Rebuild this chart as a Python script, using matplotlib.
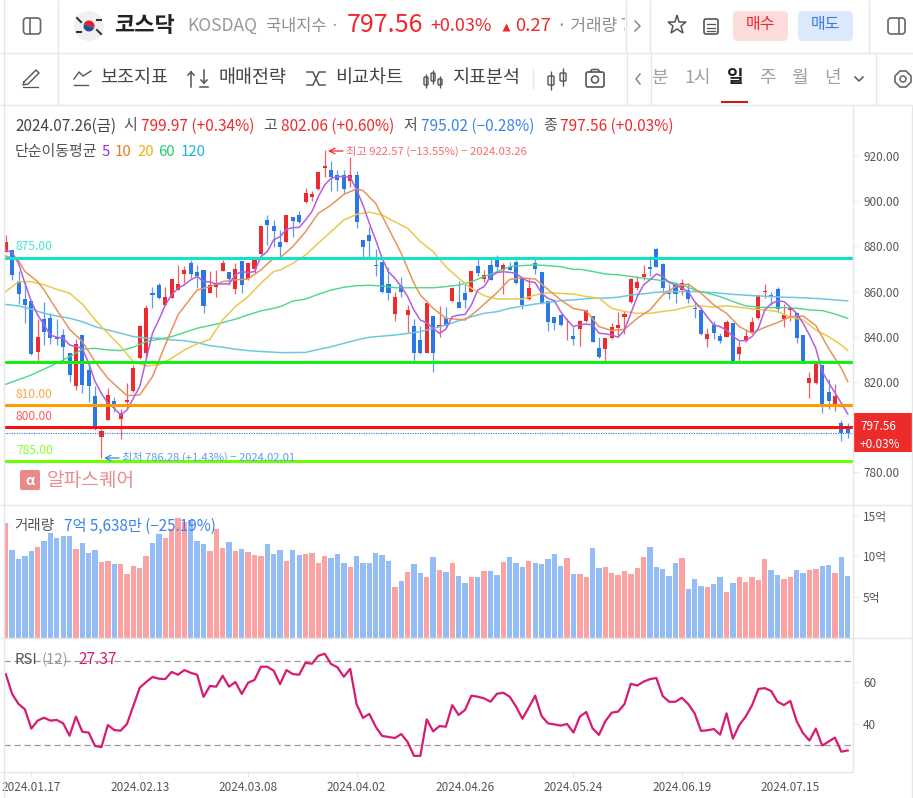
import matplotlib
matplotlib.use('Agg')
import matplotlib.pyplot as plt
from matplotlib.patches import FancyBboxPatch, Rectangle, Circle, Wedge
from matplotlib.transforms import Bbox, TransformedBbox

plt.rcParams['font.family'] = ['Noto Sans CJK KR', 'DejaVu Sans']

# candles, 2024.01.12 ~ 2024.07.26
opens = [877.7, 878.4, 864.7, 856.8, 856.0, 833.5, 847.8, 848.4, 839.8, 840.8,
         832.7, 818.4, 840.8, 825.3, 813.6, 795.8, 803.2, 811.6, 803.7, 811.2,
         816.2, 830.5, 832.7, 859.6, 863.0, 854.1, 857.1, 860.7, 867.8, 872.5,
         868.7, 869.6, 859.3, 861.9, 868.9, 868.7, 861.0, 873.7, 865.5, 869.9,
         876.6, 891.7, 889.0, 882.1, 882.1, 892.9, 893.9, 899.5, 902.0, 905.4,
         914.8, 913.8, 911.6, 911.6, 909.1, 911.6, 882.8, 885.0, 871.8, 873.2,
         863.4, 850.1, 862.5, 849.8, 844.8, 838.6, 833.0, 849.2, 844.5, 848.2,
         855.8, 855.2, 859.5, 860.0, 871.3, 865.6, 871.8, 874.0, 869.6, 870.7,
         872.9, 865.9, 856.6, 872.5, 868.5, 855.8, 848.6, 849.6, 846.0, 840.3,
         843.3, 847.2, 849.2, 834.9, 834.6, 839.4, 843.8, 848.9, 855.3, 861.8,
         866.4, 870.8, 878.9, 872.3, 859.6, 863.0, 860.7, 860.7, 852.8, 851.9,
         839.2, 845.3, 840.4, 840.1, 846.0, 832.4, 838.3, 842.3, 848.1, 859.7,
         858.4, 861.2, 847.8, 851.9, 850.4, 840.8, 819.7, 819.7, 827.6, 815.8,
         810.3, 801.7, 799.97]
highs = [885.0, 878.4, 869.3, 864.4, 856.0, 847.8, 855.4, 850.4, 847.8, 843.3,
         832.7, 838.9, 840.8, 828.3, 818.3, 799.1, 817.2, 813.5, 808.0, 819.4,
         827.6, 845.3, 854.1, 862.2, 864.0, 861.9, 865.6, 871.8, 871.4, 874.0,
         871.8, 869.6, 868.9, 869.6, 874.0, 868.7, 872.5, 873.7, 872.5, 874.8,
         889.0, 893.9, 891.7, 887.3, 893.9, 892.9, 895.8, 905.7, 904.7, 913.1,
         922.57, 917.8, 913.8, 913.8, 919.4, 913.4, 882.8, 888.7, 878.7, 873.2,
         871.0, 860.0, 866.3, 854.1, 847.7, 844.8, 855.1, 849.2, 853.6, 853.0,
         862.2, 864.7, 863.7, 869.1, 874.7, 869.6, 874.3, 876.2, 872.8, 873.2,
         874.0, 866.2, 865.9, 875.5, 868.8, 855.8, 848.9, 850.1, 848.2, 844.5,
         847.5, 851.9, 849.2, 840.1, 839.4, 846.3, 850.9, 851.2, 865.9, 866.9,
         871.8, 875.8, 879.2, 872.5, 863.4, 863.7, 865.6, 864.0, 855.3, 851.9,
         843.8, 847.2, 841.9, 847.5, 846.3, 838.3, 843.3, 848.7, 858.5, 863.4,
         860.0, 862.2, 854.4, 852.9, 850.4, 840.8, 824.6, 828.3, 827.6, 821.2,
         819.2, 803.2, 802.06]
lows = [877.7, 865.2, 854.5, 846.3, 832.0, 829.5, 836.4, 836.9, 836.4, 829.5,
        820.2, 816.5, 815.3, 811.3, 798.8, 786.28, 803.2, 806.9, 794.8, 808.4,
        815.8, 830.2, 830.5, 852.6, 856.6, 853.7, 857.1, 860.5, 863.7, 865.9,
        861.5, 850.4, 859.3, 857.8, 868.9, 863.0, 859.0, 859.3, 865.2, 868.1,
        876.6, 880.6, 879.9, 875.3, 882.1, 884.2, 890.5, 899.0, 900.2, 905.0,
        910.6, 904.5, 904.7, 903.5, 906.4, 888.3, 874.7, 875.4, 867.0, 859.2,
        856.3, 847.1, 857.8, 842.3, 829.4, 832.4, 832.7, 824.6, 840.1, 844.5,
        855.5, 852.6, 852.6, 859.7, 867.0, 864.4, 865.1, 869.3, 858.9, 869.6,
        863.4, 852.3, 856.3, 867.8, 854.5, 842.6, 843.0, 844.9, 838.6, 836.4,
        836.0, 846.7, 837.9, 830.5, 829.5, 838.9, 840.1, 841.3, 854.8, 860.7,
        865.2, 866.9, 870.8, 859.3, 856.6, 855.1, 858.5, 855.1, 848.2, 840.8,
        835.7, 838.9, 837.4, 839.8, 829.2, 829.2, 837.9, 841.9, 847.9, 857.2,
        854.1, 850.9, 844.5, 847.2, 837.2, 828.6, 812.8, 819.2, 806.5, 808.2,
        807.4, 794.1, 795.02]
closes = [882.1, 867.4, 859.0, 854.1, 832.4, 839.8, 842.3, 839.4, 839.2, 835.7,
          823.1, 836.7, 818.7, 818.4, 799.1, 798.5, 814.3, 809.1, 806.2, 812.1,
          826.4, 844.8, 852.8, 858.7, 857.1, 857.8, 865.6, 863.4, 869.6, 867.8,
          866.9, 853.7, 863.0, 863.0, 872.5, 865.5, 869.9, 863.0, 872.5, 874.0,
          889.0, 889.5, 886.8, 879.9, 893.9, 891.4, 890.9, 903.5, 903.0, 913.1,
          915.6, 910.6, 909.4, 905.2, 911.6, 890.9, 879.6, 882.5, 871.5, 860.0,
          859.2, 857.8, 860.0, 851.8, 832.7, 832.7, 855.1, 833.0, 845.2, 844.8,
          861.7, 852.9, 856.3, 869.1, 868.4, 867.3, 865.1, 871.0, 871.8, 869.6,
          863.6, 854.1, 861.4, 869.8, 854.8, 846.7, 846.2, 845.2, 846.2, 839.2,
          847.2, 851.9, 837.9, 831.2, 839.4, 844.2, 845.3, 850.0, 865.6, 864.4,
          867.7, 870.2, 871.1, 861.8, 858.8, 858.8, 864.0, 856.8, 852.2, 841.1,
          841.3, 841.9, 838.2, 846.4, 829.5, 835.7, 840.4, 846.7, 858.4, 860.3,
          857.8, 852.2, 849.7, 852.6, 839.4, 829.0, 821.7, 828.0, 810.3, 811.6,
          813.8, 797.3, 797.56]

# moving averages
ma5_x = list(range(133))
ma5 = [878.4, 877.3, 872.5, 863.7, 855.6, 849.7, 845.3, 840.8, 839.8, 839.4,
       836.4, 835.7, 834.9, 828.3, 820.2, 815.0, 810.6, 808.4, 805.4, 807.6,
       812.8, 818.0, 829.8, 841.6, 847.5, 854.1, 858.5, 861.5, 863.0, 865.2,
       866.7, 864.4, 864.4, 863.3, 863.4, 863.4, 867.4, 868.9, 868.4, 868.9,
       875.5, 877.7, 882.9, 884.3, 887.5, 888.3, 888.4, 891.7, 895.4, 902.0,
       907.2, 910.1, 910.9, 910.9, 910.6, 905.0, 898.3, 890.2, 882.8, 874.7,
       868.8, 865.9, 862.2, 857.8, 851.8, 847.4, 846.2, 843.7, 841.5, 843.4,
       848.9, 849.6, 849.9, 854.1, 860.7, 862.2, 866.6, 868.4, 868.8, 868.5,
       868.1, 865.9, 864.4, 864.0, 859.2, 857.0, 856.0, 851.1, 847.4, 844.5,
       845.3, 845.6, 845.3, 841.6, 841.3, 840.8, 839.8, 843.0, 850.4, 857.8,
       863.0, 865.2, 867.8, 866.7, 864.0, 863.0, 861.5, 860.0, 855.6, 852.6,
       848.7, 845.3, 844.5, 843.0, 840.1, 838.3, 838.3, 840.1, 843.8, 851.9,
       854.6, 855.9, 855.6, 853.1, 850.4, 846.0, 840.8, 834.9, 824.6, 819.7,
       815.3, 810.6, 805.9]
ma10_x = [0, 2, 3, 5, 6, 8, 10, 12, 14, 16, 18, 19, 21, 23, 25, 27, 29, 30, 32, 34,
          36, 38, 40, 42, 43, 45, 47, 49, 51, 53, 55, 56, 58, 60, 62, 64, 65, 67, 69, 71,
          72, 74, 76, 77, 79, 81, 83, 85, 87, 89, 91, 93, 95, 97, 99, 101, 103, 105, 107, 109,
          111, 113, 115, 117, 119, 121, 123, 125, 127, 129, 131, 132]
ma10 = [875.8, 873.7, 868.9, 864.4, 860.7, 851.9, 843.3, 837.9, 829.0, 821.7,
        816.5, 814.0, 814.3, 822.4, 836.4, 849.7, 857.1, 860.7, 862.2, 864.4,
        865.2, 865.6, 869.6, 874.8, 875.0, 879.9, 886.5, 894.6, 898.3, 903.0,
        905.4, 904.7, 899.0, 888.0, 876.9, 863.7, 858.5, 852.6, 848.2, 847.7,
        847.4, 851.9, 857.0, 859.5, 865.4, 866.0, 865.6, 861.0, 856.3, 852.5,
        851.5, 844.5, 842.8, 843.3, 848.2, 851.9, 858.5, 862.2, 863.3, 859.3,
        854.1, 850.4, 844.5, 841.6, 844.2, 846.3, 848.9, 849.2, 845.0, 834.9,
        826.1, 820.2]
ma20_x = [0, 2, 4, 6, 8, 10, 12, 14, 16, 18, 20, 22, 24, 26, 28, 30, 32, 34, 36, 38,
          40, 42, 43, 45, 47, 49, 51, 53, 55, 57, 59, 61, 63, 65, 67, 69, 71, 73, 75, 77,
          79, 81, 83, 85, 87, 89, 91, 93, 95, 97, 99, 101, 103, 105, 107, 109, 111, 113, 115, 117,
          119, 121, 123, 125, 127, 129, 131, 132]
ma20 = [860.0, 864.4, 864.4, 863.0, 861.0, 859.3, 854.5, 847.5, 841.6, 835.7,
        829.0, 827.1, 827.6, 830.5, 834.2, 836.9, 838.9, 847.5, 853.4, 857.8,
        863.7, 868.9, 869.5, 872.5, 876.2, 881.4, 886.5, 891.7, 894.2, 895.1,
        893.9, 890.9, 888.0, 882.1, 877.7, 871.0, 865.9, 861.4, 858.2, 856.7,
        856.7, 856.7, 858.5, 859.5, 859.2, 858.9, 857.8, 857.1, 852.6, 851.2,
        850.4, 850.4, 851.2, 851.9, 853.4, 853.7, 853.1, 853.7, 853.1, 852.3,
        851.9, 851.2, 848.7, 847.5, 843.0, 840.1, 836.4, 833.9]
ma60_x = [0, 4, 8, 10, 12, 14, 16, 18, 20, 22, 24, 26, 28, 30, 32, 34, 36, 38, 40, 42,
          43, 45, 47, 49, 51, 53, 55, 57, 59, 61, 63, 65, 67, 69, 71, 73, 75, 77, 79, 81,
          83, 85, 87, 89, 90, 92, 94, 96, 98, 100, 102, 104, 106, 108, 110, 112, 114, 116, 118, 120,
          122, 124, 126, 128, 130, 132]
ma60 = [819.0, 823.1, 828.3, 831.2, 834.5, 834.9, 834.2, 833.9, 835.4, 837.9,
        838.9, 840.1, 841.9, 843.8, 845.0, 846.3, 847.8, 849.7, 851.5, 852.6,
        853.3, 855.8, 856.7, 858.8, 860.7, 861.9, 862.6, 862.8, 862.5, 861.7,
        861.7, 861.7, 861.7, 862.2, 862.9, 864.4, 866.6, 868.8, 871.0, 871.5,
        871.8, 871.5, 871.0, 869.8, 869.9, 868.9, 867.8, 867.4, 866.7, 865.9,
        865.2, 864.4, 863.0, 860.7, 859.3, 857.8, 855.6, 853.7, 853.1, 852.9,
        852.9, 852.6, 851.9, 851.6, 850.1, 848.2]
ma120_x = [0, 2, 4, 6, 8, 10, 12, 14, 16, 18, 20, 22, 24, 26, 28, 30, 32, 34, 36, 38,
           40, 42, 43, 47, 49, 51, 53, 55, 57, 59, 61, 63, 65, 67, 69, 71, 73, 75, 77, 79,
           81, 83, 85, 87, 89, 90, 92, 94, 96, 98, 100, 102, 104, 106, 108, 110, 112, 114, 116, 118,
           120, 122, 124, 126, 128, 130, 132]
ma120 = [854.3, 853.7, 852.2, 850.4, 849.2, 848.2, 846.7, 844.5, 843.0, 841.6,
         840.1, 839.4, 839.4, 838.6, 838.3, 837.4, 836.1, 835.4, 834.5, 833.9,
         833.5, 833.2, 833.0, 833.1, 834.4, 835.6, 837.1, 838.6, 839.8, 840.3,
         840.8, 841.5, 842.3, 843.7, 845.2, 847.1, 848.9, 850.4, 851.1, 852.6,
         853.6, 854.5, 855.2, 856.0, 856.3, 856.6, 857.1, 857.1, 857.5, 858.5,
         859.0, 859.7, 860.0, 860.0, 860.0, 859.7, 859.3, 858.8, 858.4, 858.1,
         857.8, 857.5, 857.4, 857.1, 856.8, 856.3, 855.9]

# horizontal level lines
levels = [875.0, 828.7, 809.9, 800.0, 784.9]
level_colors = ['#12e2c8', '#12f012', '#ff9d00', '#ff1010', '#6cff00']

# volume in 억
volume = [14.1, 10.8, 9.7, 10.0, 10.6, 11.1, 11.9, 12.9, 12.2, 12.5,
          12.5, 10.9, 11.6, 10.4, 10.8, 9.3, 9.4, 9.05, 9.05, 7.8,
          8.8, 8.6, 10.0, 11.6, 12.7, 12.2, 13.4, 14.7, 14.2, 14.5,
          11.9, 11.5, 10.6, 13.4, 11.0, 11.75, 10.6, 10.9, 10.5, 10.15,
          10.0, 11.5, 10.3, 10.8, 9.4, 10.8, 10.16, 10.3, 10.4, 9.2,
          10.04, 9.8, 10.3, 9.2, 8.7, 10.04, 9.2, 9.2, 10.4, 10.16,
          9.4, 6.2, 7.0, 8.1, 9.05, 8.0, 7.5, 9.9, 8.3, 8.1,
          9.2, 7.6, 6.7, 7.5, 7.5, 8.2, 8.2, 7.7, 9.3, 9.9,
          9.2, 8.7, 9.4, 9.2, 9.05, 9.7, 10.3, 8.8, 9.8, 7.8,
          7.8, 7.5, 11.0, 8.6, 8.7, 8.0, 7.7, 8.2, 7.8, 8.6,
          9.9, 11.15, 8.7, 8.4, 7.6, 9.2, 9.8, 6.0, 7.2, 6.35,
          6.2, 6.6, 7.5, 5.6, 6.7, 7.5, 6.85, 7.5, 7.1, 9.7,
          8.3, 7.7, 7.2, 7.5, 8.3, 8.0, 8.3, 8.4, 8.8, 8.9,
          8.0, 9.9, 7.56]
volume_up = [1, 0, 0, 0, 0, 1, 0, 0, 0, 0, 0, 1, 0, 0, 0, 1, 1, 0, 1, 1,
             1, 1, 1, 0, 0, 1, 1, 1, 1, 0, 0, 0, 1, 1, 1, 0, 1, 0, 1, 1,
             1, 0, 0, 0, 1, 0, 0, 1, 1, 1, 1, 0, 0, 0, 1, 0, 0, 0, 0, 0,
             0, 1, 0, 1, 0, 0, 1, 0, 1, 0, 1, 0, 0, 1, 0, 1, 0, 0, 1, 0,
             0, 0, 1, 0, 0, 0, 0, 0, 1, 0, 1, 1, 0, 0, 1, 1, 1, 1, 1, 1,
             1, 0, 0, 0, 0, 0, 1, 0, 0, 0, 1, 0, 0, 1, 0, 1, 1, 1, 1, 1,
             0, 0, 1, 1, 0, 0, 1, 1, 0, 0, 1, 0, 0]

rsi = [63.8, 54.3, 49.5, 47.0, 37.8, 41.6, 43.0, 41.6, 41.9, 40.3,
       34.4, 43.5, 36.3, 35.9, 29.5, 29.0, 39.5, 37.1, 36.8, 40.0,
       48.6, 57.3, 60.0, 62.4, 61.6, 61.4, 64.8, 63.5, 65.7, 64.4,
       63.5, 52.9, 58.1, 57.8, 63.0, 57.8, 60.0, 54.3, 59.7, 61.0,
       67.3, 67.3, 65.4, 59.0, 65.7, 63.8, 63.5, 69.2, 68.7, 72.5,
       73.5, 68.6, 67.0, 62.5, 66.3, 49.5, 42.9, 44.8, 38.7, 34.3,
       33.8, 33.3, 35.2, 31.4, 24.8, 24.8, 42.2, 36.5, 39.0, 38.7,
       49.0, 44.3, 46.7, 53.5, 53.0, 52.2, 50.6, 54.4, 54.9, 53.0,
       48.3, 42.5, 47.9, 53.5, 43.8, 40.3, 39.8, 39.2, 40.0, 35.9,
       43.5, 45.7, 37.9, 34.8, 41.3, 45.4, 45.9, 49.5, 59.2, 58.3,
       60.2, 61.4, 61.9, 53.3, 50.6, 50.6, 52.5, 49.5, 45.1, 36.7,
       37.0, 37.6, 34.9, 45.1, 33.0, 39.5, 43.5, 48.9, 56.7, 57.1,
       55.7, 50.6, 49.0, 51.0, 41.3, 35.6, 32.1, 37.8, 29.7, 31.6,
       33.5, 26.8, 27.37]

date_ticks = [4, 21, 38, 55, 72, 89, 106, 123]
date_labels = ['2024.01.17', '2024.02.13', '2024.03.08', '2024.04.02',
               '2024.04.26', '2024.05.24', '2024.06.19', '2024.07.15']
price_ticks = [780, 820, 840, 860, 880, 900, 920]
volume_ticks = [5, 10, 15]
volume_tick_labels = ['5억', '10억', '15억']
rsi_ticks = [40, 60]

W, H = 913, 798
RED = '#ee2a2f'
BLUE = '#2a78e6'
LINE = '#e6e6e6'
GRAY = '#555555'
XMIN, XMAX = -0.28, 132.75


def panel(top, bottom):
    ax = fig.add_axes([4 / W, 1 - bottom / H, 848.5 / W, (bottom - top) / H])
    ax.set_xlim(XMIN, XMAX)
    for s in ax.spines.values():
        s.set_visible(False)
    ax.yaxis.tick_right()
    ax.set_xticks([])
    ax.tick_params(axis='y', length=3.6, width=0.7, color=LINE, pad=4,
                   labelsize=8.5, labelcolor=GRAY)
    return ax


fig = plt.figure(figsize=(W / 100, H / 100), dpi=100, facecolor='white')

# price panel
ax = panel(106, 505)
ax.set_ylim(765.6, 942.1)
for i in range(len(closes)):
    c = RED if closes[i] >= opens[i] else BLUE
    ax.vlines(i, lows[i], highs[i], color=c, lw=0.9, alpha=0.75, zorder=2)
    ax.bar(i, abs(closes[i] - opens[i]), bottom=min(opens[i], closes[i]),
           width=0.64, color=c, zorder=3)
ax.plot(ma120_x, ma120, color='#6cc8e0', lw=1.1, zorder=4)
ax.plot(ma60_x, ma60, color='#4cd68c', lw=1.0, zorder=4)
ax.plot(ma20_x, ma20, color='#ebc94e', lw=1.1, zorder=4)
ax.plot(ma10_x, ma10, color='#e8945a', lw=1.1, zorder=4)
ax.plot(ma5_x, ma5, color='#b25fe0', lw=1.1, zorder=5)
ax.axhline(closes[-1], color=BLUE, lw=0.8, ls=(0, (1, 1.2)), zorder=5)
for lv, c in zip(levels, level_colors):
    ax.axhline(lv, color=c, lw=2.2, zorder=6)
ax.set_yticks(price_ticks)
ax.set_yticklabels(['%.2f' % p for p in price_ticks])

# volume panel
vax = panel(505, 637.7)
vax.set_ylim(0, 16.3)
vax.bar(range(len(volume)), volume, width=0.84,
        color=['#fba3a3' if u else '#94bdf6' for u in volume_up])
vax.set_yticks(volume_ticks)
vax.set_yticklabels(volume_tick_labels)

# rsi panel
rax = panel(638, 772)
rax.set_ylim(17.1, 81)
rax.axhline(70, color='#999999', lw=0.9, ls=(0, (5, 3)))
rax.axhline(30, color='#999999', lw=0.9, ls=(0, (5, 3)))
rax.plot(range(len(rsi)), rsi, color='#d81b72', lw=1.6)
rax.set_yticks(rsi_ticks)
rax.set_xticks(date_ticks)
rax.set_xticklabels(date_labels)
rax.tick_params(axis='x', length=3.6, width=0.7, color=LINE, pad=3,
                labelsize=8.5, labelcolor=GRAY)

# everything around the chart, in pixels
ov = fig.add_axes([0, 0, 1, 1], zorder=10)
ov.set_xlim(0, W)
ov.set_ylim(H, 0)
ov.axis('off')


def txt(x, y, s, px=14, color=GRAY, weight='normal', ha='left', **kw):
    return ov.text(x, y, s, fontsize=px * 0.72, color=color, weight=weight,
                   ha=ha, va='center', **kw)


def hline(y, x0=0, x1=W, color=LINE, lw=1.0):
    ov.plot([x0, x1], [y, y], color=color, lw=lw, solid_capstyle='butt')


def vline(x, y0, y1, color=LINE, lw=1.0):
    ov.plot([x, x], [y0, y1], color=color, lw=lw, solid_capstyle='butt')


def rbox(x0, y0, x1, y1, r=3, fc='none', ec='none', lw=1.0):
    ov.add_patch(FancyBboxPatch((x0 + r, y0 + r), x1 - x0 - 2 * r, y1 - y0 - 2 * r,
                                boxstyle='round,pad=%d' % r, fc=fc, ec=ec, lw=lw))


for y in [53, 105, 505, 638]:
    hline(y)
hline(772, 0, 852.5)
vline(3.5, 0, 798)
vline(58, 0, 105)
vline(852.5, 106, 772)
vline(912, 106, 798)
vline(625.5, 0, 53)
vline(649.5, 0, 53)
vline(868.5, 0, 53)
vline(626.5, 53, 105)
vline(650.5, 53, 105)
vline(875.5, 53, 105)

# header row
rbox(23.5, 18, 40.5, 34, r=3, ec='#666666', lw=1.2)
vline(30, 18, 34, color='#666666', lw=1.2)
ov.add_patch(Circle((89, 26), 15, fc='#f0f0f0', ec='none'))
ov.add_patch(Wedge((89, 26), 5.5, 200, 20, fc='#d9252f', ec='none'))
ov.add_patch(Wedge((89, 26), 5.5, 20, 200, fc='#1f4fa0', ec='none'))
for dx, dy in [(-10, -6), (10, -6), (-10, 6), (10, 6)]:
    ov.plot([89 + dx - 2, 89 + dx + 2], [26 + dy - 2 * (dx * dy > 0), 26 + dy + 2 * (dx * dy > 0)],
            color='#333333', lw=1.5)
txt(114, 25, '코스닥', 22, '#222222', 'bold')
txt(187, 26, 'KOSDAQ', 17.5, '#9a9a9a')
txt(266, 26, '국내지수 ·', 16.5, '#8f8f8f')
txt(347, 25, '797.56', 25, '#f0282d', 'medium')
txt(430, 26, '+0.03%', 18, '#f0282d')
ov.plot(506, 27, marker='^', ms=6, color='#f0282d', mec='none')
txt(515, 26, '0.27', 18.5, '#f0282d')
t = txt(557, 26, '· 거래량 7', 17, '#8f8f8f')
t.set_clip_box(TransformedBbox(Bbox([[540, 0], [625, 53]]), ov.transData))
t.set_clip_on(True)
ov.plot([635, 640, 635], [21, 26, 31], color='#888888', lw=1.1)
ov.plot(677, 25, marker='*', ms=14, mfc='none', mec='#555555', mew=1.1)
rbox(704, 19, 718, 34, r=2, ec='#555555', lw=1.2)
for y in [24, 27.5, 31]:
    ov.plot([707, 715], [y, y], color='#555555', lw=0.9)
rbox(733, 11, 788, 41, r=5, fc='#fddcdc')
txt(760.5, 24, '매수', 16, '#f0282d', 'medium', ha='center')
rbox(798, 11, 853, 41, r=5, fc='#dce8fb')
txt(825.5, 24, '매도', 16, '#3a7be8', 'medium', ha='center')
rbox(888, 18, 905, 34, r=3, ec='#666666', lw=1.2)
vline(899, 18, 34, color='#666666', lw=1.2)

# toolbar row
ov.plot([24, 36, 39, 28, 23, 24], [82, 70, 73, 84, 85, 82], color='#555555', lw=1.0)
ov.plot([23, 38], [87, 87], color='#555555', lw=0.9)
ov.plot([74, 79, 83, 91], [79, 72, 76, 71], color='#555555', lw=1.0)
ov.plot([74, 88], [85, 85], color='#555555', lw=1.0)
ov.plot([191, 191], [72, 87], color='#555555', lw=1.1)
ov.plot([191, 188], [72, 75], color='#555555', lw=1.1)
ov.plot([191, 194], [72, 75], color='#555555', lw=1.1)
ov.plot([204, 204], [70, 83], color='#555555', lw=1.1)
ov.plot([200, 208], [87, 87], color='#555555', lw=1.1)
ov.plot([201, 204, 207], [80, 83, 80], color='#555555', lw=1.1)
ov.plot([307, 313, 319, 325], [72, 72, 85, 85], color='#555555', lw=1.1)
ov.plot([307, 313, 319, 325], [85, 85, 72, 72], color='#555555', lw=1.1)
for x, y0, y1 in [(426, 74, 88), (433, 70, 84), (440, 76, 88)]:
    vline(x, y0, y1, color='#555555', lw=1.0)
    rbox(x - 2, y0 + 3, x + 2, y1 - 3, r=1, ec='#555555', fc='white')
for x, s in [(100, '보조지표'), (218, '매매전략'), (335, '비교차트'), (452, '지표분석')]:
    txt(x, 78, s, 18.5, '#444444', 'medium')
vline(533, 69, 89, lw=1.0)
for x, y0, y1 in [(551, 71, 90), (563, 68, 86)]:
    vline(x, y0, y1, color='#555555', lw=1.0)
    rbox(x - 3, y0 + 5, x + 3, y1 - 5, r=1, ec='#555555', fc='white')
rbox(586, 72, 604, 87, r=2, ec='#555555', lw=1.2)
ov.add_patch(Circle((595, 79.5), 3.5, fc='none', ec='#555555', lw=1.1))
ov.plot([590, 592, 598, 600], [72, 69.5, 69.5, 72], color='#555555', lw=1.1)
ov.plot([640, 636, 640], [74, 79, 84], color='#888888', lw=1.1)
for x, s in [(659, '분'), (697.5, '1시'), (767, '주'), (799.5, '월'), (832, '년')]:
    txt(x, 78, s, 18, '#a0a0a0', 'medium', ha='center')
txt(735, 78, '일', 18, '#222222', 'bold', ha='center')
hline(102, 721, 748, color='#d01818', lw=1.5)
ov.plot([855, 859, 863], [77, 81, 77], color='#555555', lw=1.1)
ov.plot(903, 79, marker='8', ms=13, mfc='none', mec='#666666', mew=1.2)
ov.add_patch(Circle((903, 79), 3, fc='none', ec='#666666', lw=1.1))

# ohlc caption
txt(15, 126, '2024.07.26(금)', 15.4, '#444444')
txt(123, 126, '시', 15)
txt(141, 126, '799.97 (+0.34%)', 15.4, RED)
txt(263, 126, '고', 15)
txt(281, 126, '802.06 (+0.60%)', 15.4, RED)
txt(403, 126, '저', 15)
txt(421, 126, '795.02 (−0.28%)', 15.4, '#3a82ee')
txt(543, 126, '종', 15)
txt(560, 126, '797.56 (+0.03%)', 15.4, RED)
txt(15, 152, '단순이동평균', 15)
for x, s, c in [(102, '5', '#a32cd9'), (115, '10', '#e67a22'), (137, '20', '#e8b80c'),
                (158, '60', '#22cc77'), (181, '120', '#1fb3d6')]:
    txt(x, 152, s, 15, c)

# high / low notes
ov.annotate('', xy=(328, 151), xytext=(343, 151),
            arrowprops=dict(arrowstyle='->', color='#f0282d', lw=0.9, shrinkA=0, shrinkB=0))
txt(346, 151, '최고 922.57 (−13.55%) − 2024.03.26', 11.3, '#f86a6e')
clip = TransformedBbox(Bbox([[100, 440], [300, 461]]), ov.transData)
arrow = ov.annotate('', xy=(104, 458), xytext=(119, 458),
                    arrowprops=dict(arrowstyle='->', color='#3a82ee', lw=0.9, shrinkA=0, shrinkB=0))
t = txt(122, 457, '최저 786.28 (+1.43%) − 2024.02.01', 11.2, '#5f9cf0')
t.set_clip_box(clip)
t.set_clip_on(True)

# level labels
for y, s, c in [(247, '875.00', '#3fe8d4'), (394, '810.00', '#ffa83a'),
                (416, '800.00', '#ff5a5a'), (450, '785.00', '#84ff30')]:
    txt(16, y, s, 12, c)

# watermark
rbox(20, 470, 40, 490, r=2, fc='#e88a8a')
txt(30, 481, 'α', 14, 'white', 'bold', ha='center')
txt(47, 480, '알파스퀘어', 19.2, '#e88e8e')

# current price box
ov.add_patch(Rectangle((853, 413), 59, 39, fc='#ee2b2b', ec='none'))
txt(860, 426, '797.56', 11.8, 'white')
txt(860, 444, '+0.03%', 11.8, 'white')

# volume / rsi captions
txt(14, 526, '거래량', 14.5)
txt(64, 526, '7억 5,638만 (−25.19%)', 15.2, '#3a82ee')
txt(15, 660, 'RSI', 15)
txt(42, 660, '(12)', 15, '#999999')
txt(78, 660, '27.37', 15.4, '#d81b72')

fig.savefig('out.png', dpi=100, facecolor='white')
